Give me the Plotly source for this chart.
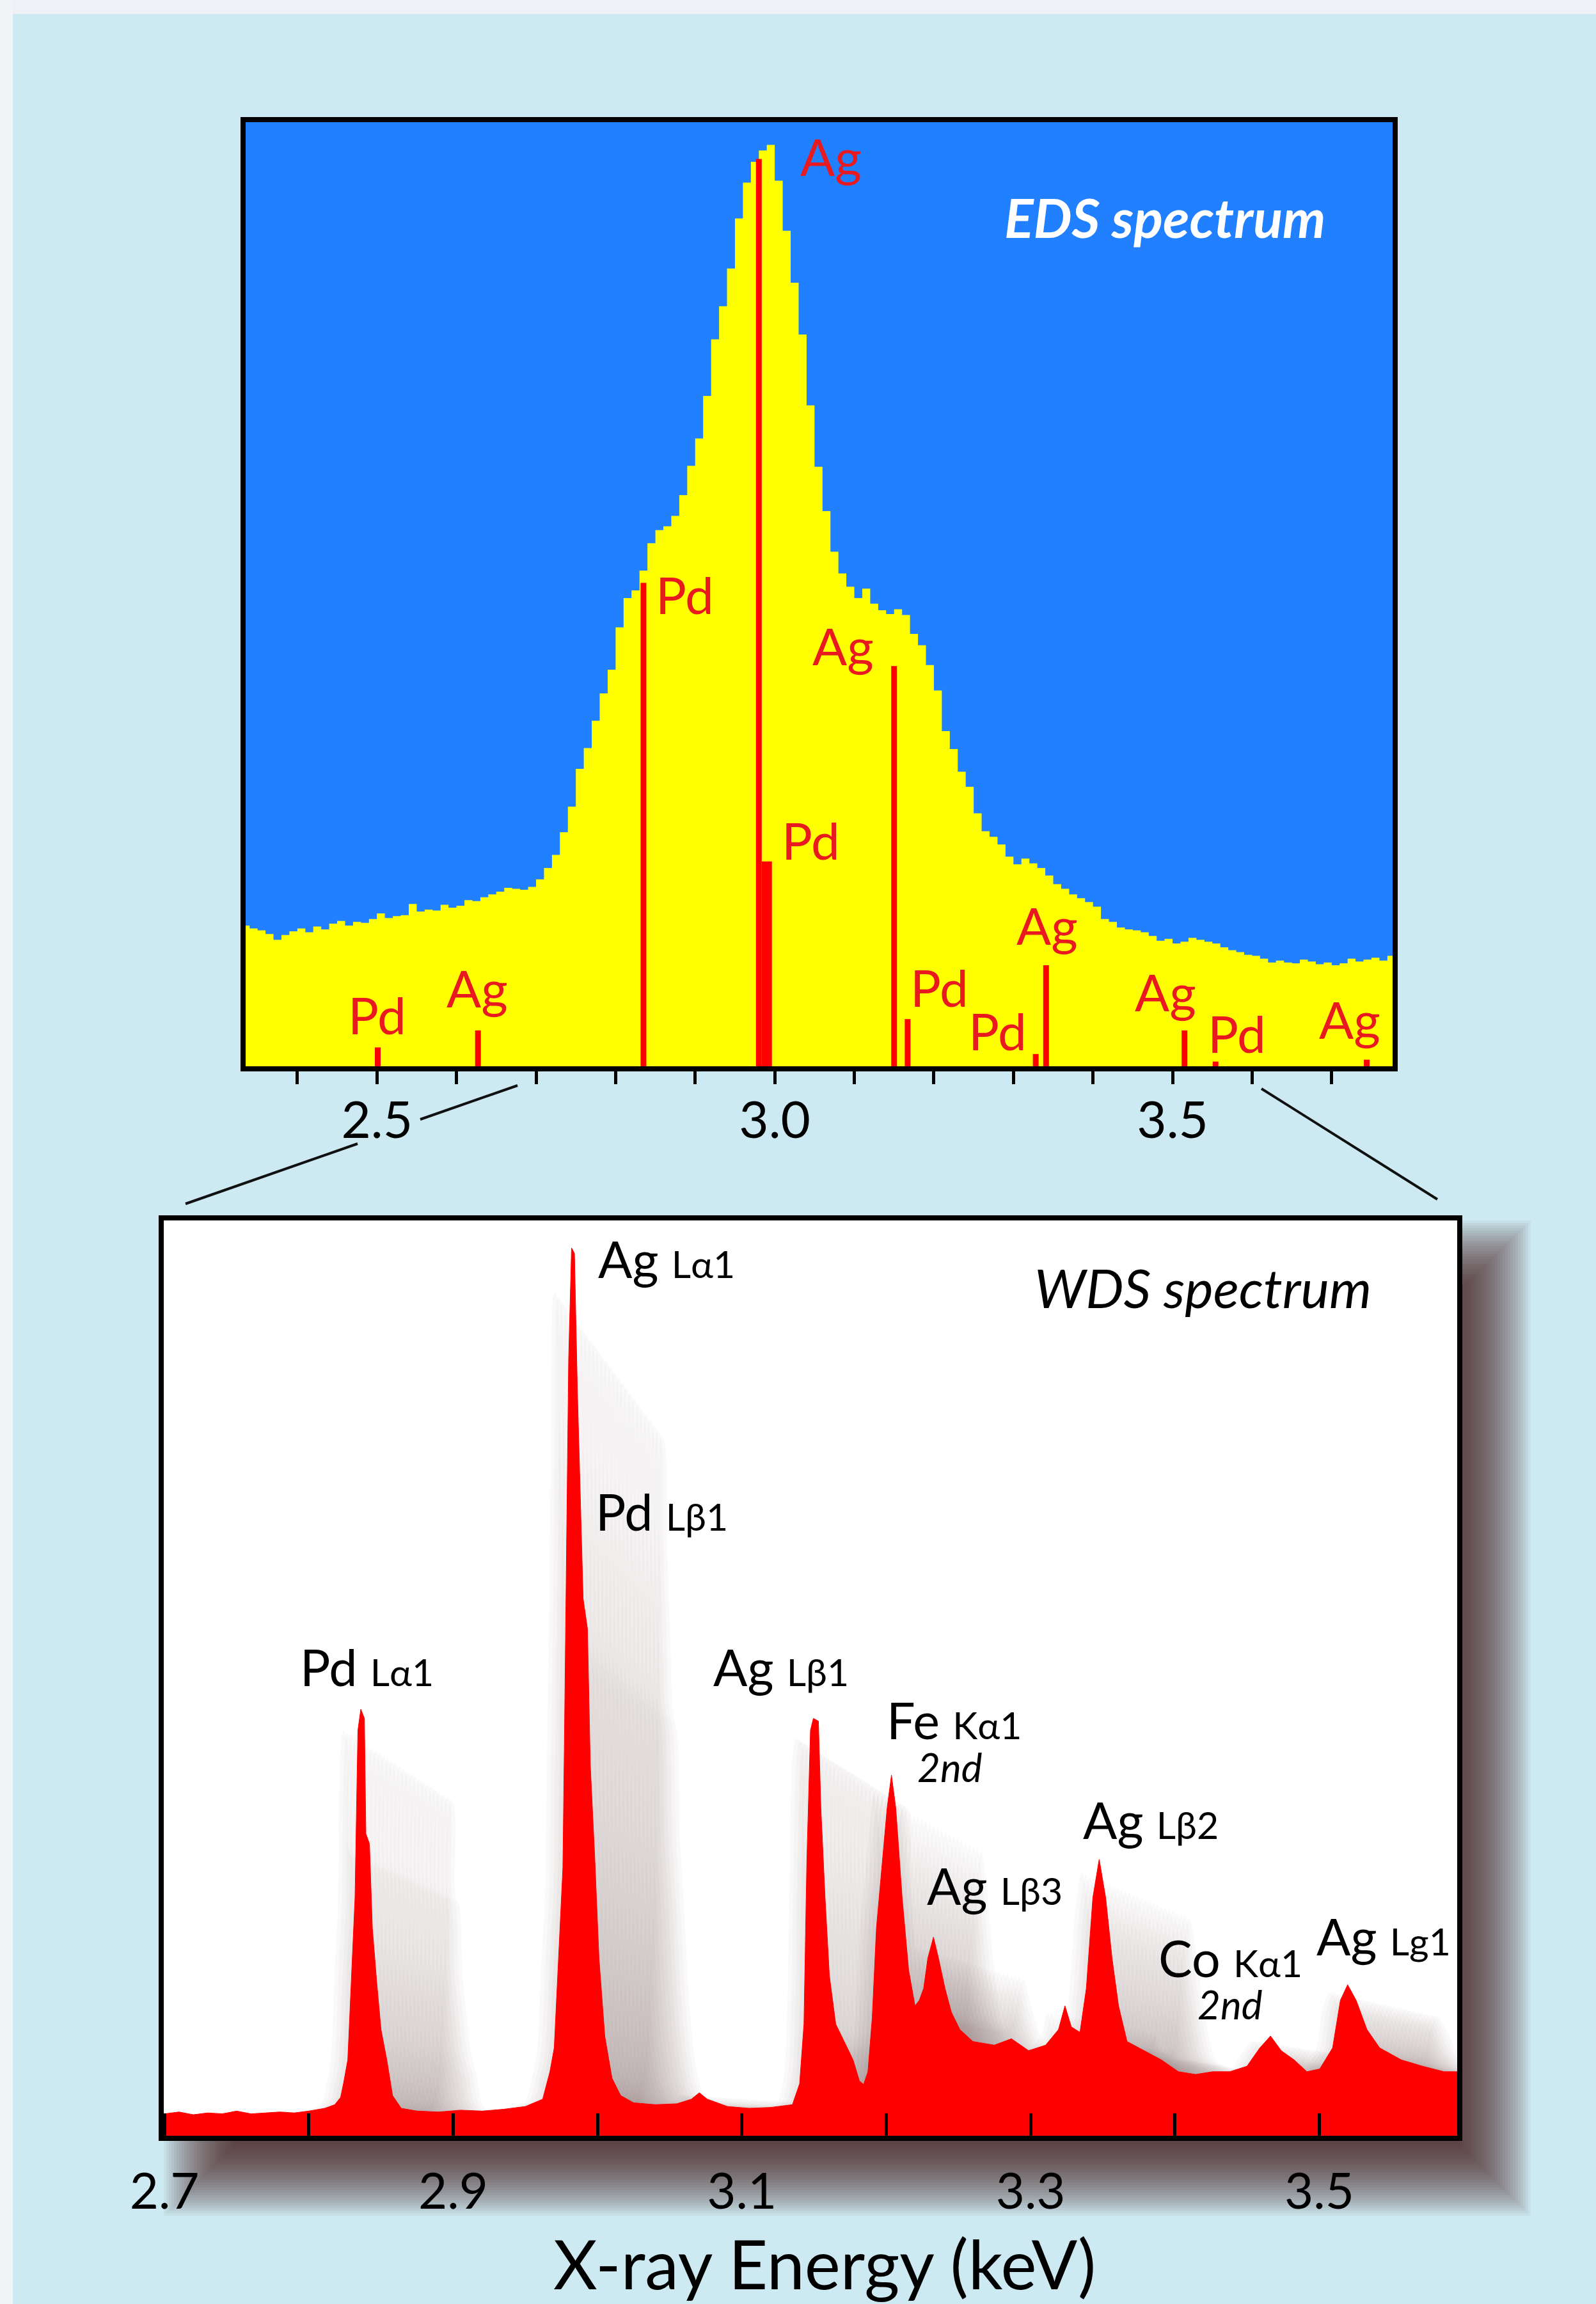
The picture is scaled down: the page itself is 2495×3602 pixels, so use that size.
import plotly.graph_objects as go

W, H = 2495, 3602

# ------------------------------------------------------------------ data
# EDS spectrum: histogram counts (arbitrary units, 100 = top of panel)
EDS_BIN_START = 2.33     # keV, left edge of the first bin
EDS_BIN_WIDTH = 0.01     # keV
EDS_COUNTS = [
    14.9, 14.6, 14.4, 14.0, 13.4, 13.9, 14.3, 14.6, 14.2, 14.8,
    14.5, 15.1, 15.4, 14.9, 15.3, 15.2, 15.6, 16.2, 15.7, 15.9,
    16.0, 17.2, 16.4, 16.6, 16.5, 17.1, 16.8, 17.0, 17.6, 17.5,
    17.9, 18.2, 18.5, 18.9, 18.8, 18.7, 19.0, 19.8, 21.0, 22.4,
    24.8, 27.5, 31.5, 33.7, 36.6, 39.5, 42.0, 46.5, 49.6, 50.4,
    52.5, 55.4, 56.8, 57.2, 58.3, 60.5, 63.6, 66.5, 71.0, 77.0,
    80.5, 84.5, 89.8, 93.6, 95.8, 97.0, 97.6, 93.8, 88.5, 83.0,
    77.5, 70.0, 63.5, 58.8, 54.5, 52.2, 50.8, 49.6, 50.6, 49.0,
    48.3, 47.9, 48.4, 47.8, 45.8, 44.6, 42.5, 39.8, 35.5, 33.6,
    31.2, 29.6, 26.8, 24.9, 24.3, 23.5, 22.2, 21.4, 22.0, 21.5,
    21.0, 20.2, 19.3, 18.8, 18.2, 17.8, 17.4, 16.9, 15.6, 15.3,
    14.7, 14.5, 14.4, 14.2, 13.8, 13.3, 13.5, 13.0, 13.2, 13.6,
    13.4, 13.2, 13.0, 12.6, 12.3, 12.1, 11.8, 11.7, 11.4, 11.0,
    11.2, 11.0, 10.9, 11.3, 11.1, 10.8, 11.0, 10.7, 10.9, 11.4,
    11.1, 11.3, 11.5, 11.2, 11.7,
]

# EDS characteristic line markers
EDS_LINE_ELEMENT = ["Pd", "Ag", "Pd", "Ag", "Pd", "Ag", "Pd", "Pd", "Ag", "Ag", "Pd", "Ag"]
EDS_LINE_KEV = [2.501, 2.627, 2.835, 2.980, 2.990, 3.150, 3.167, 3.328, 3.341, 3.515, 3.554, 3.744]
EDS_LINE_HEIGHT = [2.0, 3.8, 51.2, 96.1, 21.7, 42.4, 5.0, 1.3, 10.7, 3.8, 0.5, 0.7]

# WDS spectrum (keV, intensity, 100 = top of panel)
WDS_KEV = [
    2.700, 2.710, 2.720, 2.730, 2.740, 2.750, 2.760, 2.770, 2.780, 2.790,
    2.800, 2.811, 2.818, 2.822, 2.824, 2.827, 2.830, 2.832, 2.834, 2.836,
    2.8385, 2.8395, 2.842, 2.844, 2.847, 2.850, 2.854, 2.858, 2.864, 2.875,
    2.890, 2.905, 2.920, 2.935, 2.950, 2.958, 2.962, 2.967, 2.970, 2.973,
    2.976, 2.977, 2.979, 2.980, 2.982, 2.984, 2.986, 2.988, 2.990, 2.993,
    2.995, 2.998, 3.001, 3.005, 3.010, 3.016, 3.025, 3.040, 3.055, 3.065,
    3.0705, 3.076, 3.090, 3.105, 3.120, 3.135, 3.140, 3.143, 3.145, 3.1475,
    3.1495, 3.153, 3.1547, 3.1576, 3.1606, 3.165, 3.171, 3.177, 3.1814, 3.1843,
    3.1873, 3.1903, 3.1932, 3.1977, 3.2006, 3.2036, 3.2066, 3.211, 3.2155, 3.2199,
    3.2229, 3.2259, 3.2288, 3.2327, 3.2362, 3.2407, 3.2451, 3.251, 3.260, 3.2748,
    3.2867, 3.2986, 3.3104, 3.3193, 3.3238, 3.3282, 3.3342, 3.3386, 3.3431, 3.3475,
    3.352, 3.3564, 3.3609, 3.3668, 3.3786, 3.3905, 3.4024, 3.4143, 3.4261, 3.438,
    3.4499, 3.4588, 3.4662, 3.4736, 3.4825, 3.4914, 3.5003, 3.5092, 3.5146, 3.5196,
    3.5255, 3.533, 3.5418, 3.5567, 3.5715, 3.5864, 3.600,
]
WDS_INTENSITY = [
    2.4, 2.6, 2.3, 2.5, 2.4, 2.7, 2.4, 2.5, 2.6, 2.5,
    2.7, 3.0, 3.4, 4.2, 5.7, 8.3, 19.4, 26.0, 44.3, 46.6,
    45.6, 33.0, 31.9, 22.7, 16.8, 11.6, 8.3, 4.4, 3.0, 2.7,
    2.6, 2.8, 2.7, 2.9, 3.2, 3.7, 4.0, 7.0, 9.6, 19.4,
    29.3, 42.3, 68.5, 84.9, 97.0, 96.4, 81.6, 69.8, 58.7, 55.4,
    40.4, 30.6, 19.4, 10.9, 6.3, 4.4, 3.6, 3.4, 3.5, 4.0,
    4.7, 4.0, 3.2, 3.0, 3.1, 3.4, 5.7, 12.2, 30.0, 44.3,
    45.6, 45.3, 35.8, 26.0, 17.5, 12.2, 10.3, 8.3, 6.0, 5.6,
    7.0, 12.9, 22.7, 30.6, 35.8, 39.4, 35.8, 26.0, 18.1, 14.2,
    14.8, 16.1, 19.4, 21.7, 19.4, 16.1, 13.5, 11.6, 10.3, 9.9,
    10.6, 9.3, 9.9, 11.6, 14.2, 11.9, 11.3, 16.1, 26.0, 30.2,
    26.0, 19.4, 14.2, 10.3, 9.3, 8.3, 7.0, 6.7, 7.0, 7.0,
    7.6, 9.6, 10.9, 9.3, 8.3, 7.0, 7.3, 9.6, 14.8, 16.5,
    14.8, 11.6, 9.6, 8.3, 7.6, 7.0, 7.0,
]

# Axis ticks
EDS_TICKS = [2.4, 2.5, 2.6, 2.7, 2.8, 2.9, 3.0, 3.1, 3.2, 3.3, 3.4, 3.5, 3.6, 3.7]
EDS_TICK_LABELS = ["", "2.5", "", "", "", "", "3.0", "", "", "", "", "3.5", "", ""]
WDS_TICKS = [2.7, 2.8, 2.9, 3.0, 3.1, 3.2, 3.3, 3.4, 3.5]
WDS_TICK_LABELS = ["2.7", "", "2.9", "", "3.1", "", "3.3", "", "3.5"]

# WDS peak labels
WDS_LABEL_ELEMENT = ["Ag", "Pd", "Pd", "Ag", "Fe", "Ag", "Ag", "Co", "Ag"]
WDS_LABEL_LINE = ["Lα1", "Lβ1", "Lα1", "Lβ1", "Kα1", "Lβ3", "Lβ2", "Kα1", "Lg1"]
WDS_LABEL_SECOND_ORDER = [False, False, False, False, True, False, False, True, False]

# ------------------------------------------------------------------ layout helpers
FONT = "Lato"
BG = "#cdeaf2"
RED_LINE = "#ff0000"
RED_TEXT = "#e8191f"


def px_x(p):
    return p / W


def px_y(p):
    return 1 - p / H


# panel geometry (pixels)
EDS_L, EDS_R, EDS_T, EDS_B = 384, 2177, 191, 1667
WDS_L, WDS_R, WDS_T, WDS_B = 256, 2278, 1908, 3339

fig = go.Figure()

# ---- EDS histogram
n = len(EDS_COUNTS)
eds_x = [EDS_BIN_START + i * EDS_BIN_WIDTH for i in range(n + 1)]
eds_y = EDS_COUNTS + [EDS_COUNTS[-1]]
fig.add_trace(go.Scatter(
    x=eds_x, y=eds_y, mode="lines", line=dict(width=0, shape="hv", color="#ffff00"),
    fill="tozeroy", fillcolor="#ffff00", hoverinfo="skip", showlegend=False,
    xaxis="x", yaxis="y"))

# ---- EDS line markers
line_w = [9, 9, 9, 9, 16, 9, 9, 9, 9, 9, 9, 9]
for e, h, w in zip(EDS_LINE_KEV, EDS_LINE_HEIGHT, line_w):
    fig.add_trace(go.Scatter(
        x=[e, e], y=[0, h], mode="lines", line=dict(color=RED_LINE, width=w),
        hoverinfo="skip", showlegend=False, xaxis="x", yaxis="y"))

# ---- WDS soft drop shadow of the peaks (shifted, translucent copies)
for k in range(28):
    shift = -0.012 + 0.00275 * k
    scale = 0.95 - 0.006 * k
    fig.add_trace(go.Scatter(
        x=[e + shift for e in WDS_KEV],
        y=[v * scale for v in WDS_INTENSITY],
        mode="lines", line=dict(width=0, shape="spline"), fill="tozeroy",
        fillcolor="rgba(85,60,60,0.03)", hoverinfo="skip", showlegend=False,
        xaxis="x2", yaxis="y2"))

# ---- WDS spectrum
fig.add_trace(go.Scatter(
    x=WDS_KEV, y=WDS_INTENSITY, mode="lines", line=dict(width=1, color="#ff0000"),
    fill="tozeroy", fillcolor="#ff0000", hoverinfo="skip", showlegend=False,
    xaxis="x2", yaxis="y2"))

shapes = []
# light frame strips at top/left of the image
shapes.append(dict(type="rect", xref="paper", yref="paper", x0=0, x1=1,
                   y0=px_y(22), y1=1, fillcolor="#eef1f5", line_width=0, layer="below"))
shapes.append(dict(type="rect", xref="paper", yref="paper", x0=0, x1=px_x(20),
                   y0=0, y1=1, fillcolor="#f3f4f7", line_width=0, layer="below"))

# WDS panel drop shadow (stack of translucent rectangles)
for e in range(-60, 61, 4):
    shapes.append(dict(
        type="rect", xref="paper", yref="paper",
        x0=px_x(WDS_L + 60 - e), x1=px_x(WDS_R + 55 + e),
        y0=px_y(WDS_B + 65 + e), y1=px_y(WDS_T + 60 - e),
        fillcolor="rgba(55,28,30,0.048)", line_width=0, layer="below"))

# panel backgrounds
shapes.append(dict(type="rect", xref="x domain", yref="y domain", x0=0, x1=1, y0=0, y1=1,
                   fillcolor="#2080ff", line_width=0, layer="below"))
shapes.append(dict(type="rect", xref="x2 domain", yref="y2 domain", x0=0, x1=1, y0=0, y1=1,
                   fillcolor="#ffffff", line_width=0, layer="below"))

# zoom connector lines
for (xa, ya, xb, yb) in [(809, 1697, 657, 1750), (559, 1788, 290, 1882), (1972, 1702, 2247, 1875)]:
    shapes.append(dict(type="line", xref="paper", yref="paper",
                       x0=px_x(xa), y0=px_y(ya), x1=px_x(xb), y1=px_y(yb),
                       line=dict(color="#111111", width=4)))

annotations = []

# EDS element labels (position: keV, height, anchor)
eds_label_pos = [
    (2.500, 5.5, "center"), (2.626, 8.3, "center"), (2.8485, 50.0, "left"),
    (3.0305, 96.4, "left"), (3.0072, 24.0, "left"), (3.126, 44.6, "right"),
    (3.169, 8.4, "left"), (3.280, 3.8, "center"), (3.342, 15.0, "center"),
    (3.491, 7.9, "center"), (3.581, 3.5, "center"), (3.723, 5.0, "center"),
]
for el, (x, y, anc) in zip(EDS_LINE_ELEMENT, eds_label_pos):
    annotations.append(dict(
        text=el, x=x, y=y, xref="x", yref="y", xanchor=anc, yanchor="middle",
        showarrow=False, font=dict(family=FONT, size=80, color=RED_TEXT)))

annotations.append(dict(
    text="EDS spectrum", x=3.491, y=90.0, xref="x", yref="y", xanchor="center",
    yanchor="middle", showarrow=False,
    font=dict(family=FONT, size=85, color="white", weight="bold", style="italic")))

# WDS labels (left edge keV, bottom of text box)
wds_label_pos = [
    (2.9993, 92.4), (2.9979, 64.8), (2.7932, 47.8), (3.0794, 47.8), (3.1992, 42.0),
    (3.2273, 23.9), (3.3356, 31.1), (3.3876, 16.0), (3.4973, 18.4),
]
second_pos = {4: (3.2441, 37.6), 7: (3.438, 11.7)}
for i, (el, ln, (x, y)) in enumerate(zip(WDS_LABEL_ELEMENT, WDS_LABEL_LINE, wds_label_pos)):
    annotations.append(dict(
        text=f"{el} <span style='font-size:59px'>{ln}</span>", x=x, y=y,
        xref="x2", yref="y2", xanchor="left", yanchor="bottom", showarrow=False,
        font=dict(family=FONT, size=79, color="black")))
    if WDS_LABEL_SECOND_ORDER[i]:
        sx, sy = second_pos[i]
        annotations.append(dict(
            text="2nd", x=sx, y=sy, xref="x2", yref="y2", xanchor="center",
            yanchor="bottom", showarrow=False,
            font=dict(family=FONT, size=62, color="black", style="italic")))

annotations.append(dict(
    text="WDS spectrum", x=3.4195, y=89.0, xref="x2", yref="y2", xanchor="center",
    yanchor="bottom", showarrow=False,
    font=dict(family=FONT, size=84, color="black", style="italic")))

annotations.append(dict(
    text="X-ray Energy (keV)", x=px_x(1289), y=px_y(3538), xref="paper", yref="paper",
    xanchor="center", yanchor="middle", showarrow=False,
    font=dict(family=FONT, size=106, color="black")))

axis_common = dict(showgrid=False, zeroline=False, showline=True, mirror=True,
                   linecolor="black", linewidth=8, automargin=False)

fig.update_layout(
    width=W, height=H, autosize=False,
    margin=dict(l=0, r=0, t=0, b=0, pad=0, autoexpand=False),
    paper_bgcolor=BG, plot_bgcolor="rgba(0,0,0,0)",
    showlegend=False,
    xaxis=dict(domain=[px_x(EDS_L), px_x(EDS_R)], range=[2.335, 3.7765], anchor="y",
               tickmode="array", tickvals=EDS_TICKS, ticktext=EDS_TICK_LABELS,
               ticks="outside", ticklen=20, tickwidth=5, tickcolor="black",
               ticklabelstandoff=-12,
               tickfont=dict(family=FONT, size=80, color="black"), **axis_common),
    yaxis=dict(domain=[px_y(EDS_B), px_y(EDS_T)], range=[0, 100], anchor="x",
               showticklabels=False, ticks="", **axis_common),
    xaxis2=dict(domain=[px_x(WDS_L), px_x(WDS_R)], range=[2.6995, 3.5955], anchor="y2",
                tickmode="array", tickvals=WDS_TICKS, ticktext=WDS_TICK_LABELS,
                ticks="inside", ticklen=35, tickwidth=5, tickcolor="black",
                ticklabelstandoff=12,
                tickfont=dict(family=FONT, size=78, color="black"), **axis_common),
    yaxis2=dict(domain=[px_y(WDS_B), px_y(WDS_T)], range=[0, 100], anchor="x2",
                showticklabels=False, ticks="", **axis_common),
    shapes=shapes,
    annotations=annotations,
)

fig.write_html("out.html", config={"displayModeBar": False},
               post_script="document.body.style.margin='0';document.body.style.overflow='hidden';")
